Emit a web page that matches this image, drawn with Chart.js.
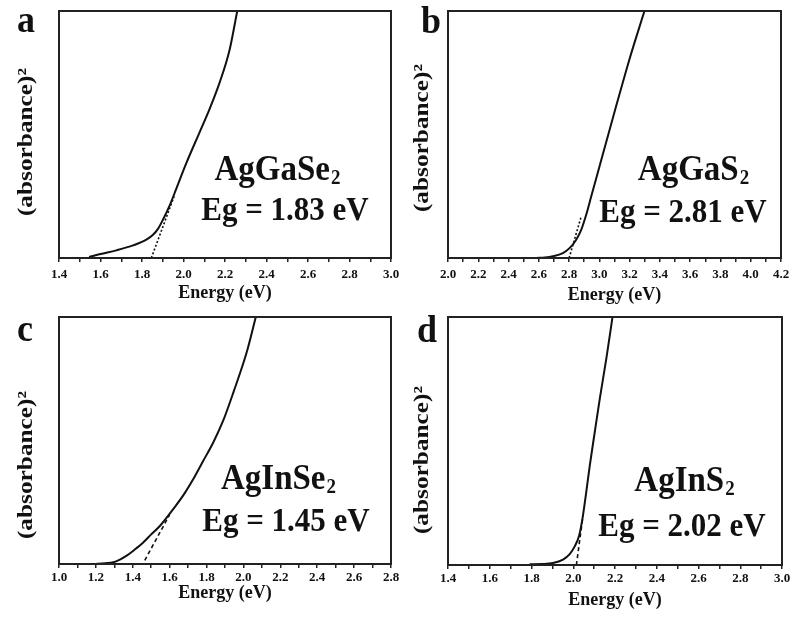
<!DOCTYPE html>
<html>
<head>
<meta charset="utf-8">
<script src="https://cdn.jsdelivr.net/npm/chart.js@4.4.1/dist/chart.umd.min.js"></script>
<style>
  body { margin: 0; background: #fff; }
  #wrap { position: relative; width: 792px; height: 618px; }
  #wrap canvas { position: absolute; left: 0; top: 0; }
</style>
</head>
<body>
<div id="wrap">
  <canvas id="chartA" width="792" height="618"></canvas>
  <canvas id="chartB" width="792" height="618"></canvas>
  <canvas id="chartC" width="792" height="618"></canvas>
  <canvas id="chartD" width="792" height="618"></canvas>
</div>
<script>
// (a) AgGaSe2
const energyA = [1.545, 1.60, 1.676, 1.757, 1.821, 1.853, 1.877, 1.901, 1.933, 1.965, 2.014, 2.078, 2.126, 2.174, 2.222, 2.259];
const absA = [0.004, 0.016, 0.031, 0.051, 0.074, 0.094, 0.118, 0.155, 0.212, 0.28, 0.385, 0.51, 0.604, 0.71, 0.842, 1.0];
const fitXA = [1.845, 1.955];
const fitYA = [0, 0.25];

// (b) AgGaS2
const energyB = [2.583, 2.64, 2.693, 2.759, 2.803, 2.847, 2.880, 2.913, 2.946, 2.979, 3.023, 3.111, 3.199, 3.298];
const absB = [0, 0.002, 0.007, 0.02, 0.04, 0.074, 0.114, 0.175, 0.249, 0.322, 0.42, 0.615, 0.805, 1.0];
const fitXB = [2.80, 2.88];
const fitYB = [0, 0.168];

// (c) AgInSe2
const energyC = [1.19, 1.25, 1.295, 1.33, 1.367, 1.41, 1.458, 1.50, 1.548, 1.62, 1.68, 1.729, 1.78, 1.837, 1.89, 1.946, 2.018, 2.067];
const absC = [0, 0.003, 0.007, 0.018, 0.034, 0.058, 0.088, 0.12, 0.155, 0.223, 0.285, 0.345, 0.415, 0.493, 0.58, 0.696, 0.858, 1.0];
const fitXC = [1.465, 1.60];
const fitYC = [0.015, 0.2];

// (d) AgInS2
const energyD = [1.791, 1.85, 1.903, 1.951, 1.983, 2.007, 2.028, 2.044, 2.06, 2.079, 2.103, 2.127, 2.159, 2.188];
const absD = [0.003, 0.004, 0.008, 0.022, 0.044, 0.075, 0.118, 0.186, 0.28, 0.40, 0.536, 0.67, 0.835, 1.0];
const fitXD = [2.015, 2.047];
const fitYD = [0, 0.2];

const serif = '"Liberation Serif", "Times New Roman", serif';
const ink = '#111';

function pts(xs, ys) {
  return xs.map((x, i) => ({ x: x, y: ys[i] }));
}

// text in the figure is a bit taller than the font, so stretch it
function tallText(c, text, x, y, sy) {
  c.save();
  c.translate(x, y);
  c.scale(1, sy);
  c.fillText(text, 0, 0);
  c.restore();
}

// frame, panel letter, y title and the compound / Eg labels
const decor = {
  id: 'decor',
  afterDraw(chart) {
    const c = chart.ctx, a = chart.chartArea, o = chart.options.plugins.decor;
    c.save();
    c.strokeStyle = '#222';
    c.lineWidth = 2;
    c.strokeRect(a.left, a.top, a.right - a.left, a.bottom - a.top);
    c.fillStyle = ink;
    c.textBaseline = 'alphabetic';

    c.font = 'bold 36px ' + serif;
    c.textAlign = 'left';
    tallText(c, o.letter, o.letterX, o.letterY, 1.08);

    c.save();
    c.translate(o.ytX, o.ytY);
    c.rotate(-Math.PI / 2);
    c.scale(1.15, 1);
    c.textAlign = 'center';
    c.textBaseline = 'middle';
    c.font = 'bold 22px ' + serif;
    c.fillText('(absorbance)²', 0, 0);
    c.restore();

    // compound name with subscript 2
    c.font = 'bold 33px ' + serif;
    const w1 = c.measureText(o.name).width;
    c.font = 'bold 19px ' + serif;
    const w2 = c.measureText('2').width;
    const x0 = o.nameX - (w1 + w2) / 2;
    c.textAlign = 'left';
    c.font = 'bold 33px ' + serif;
    tallText(c, o.name, x0, o.nameY, 1.1);
    c.font = 'bold 19px ' + serif;
    tallText(c, '2', x0 + w1 + 1, o.nameY + 4, 1.1);

    c.font = 'bold 31px ' + serif;
    c.textAlign = 'center';
    tallText(c, o.eg, o.egX, o.egY, 1.12);
    c.restore();
  }
};

function makePanel(id, curve, fit, dash, xMin, xMax, box, axisH, tickPad, titlePad, deco) {
  new Chart(document.getElementById(id), {
    type: 'line',
    data: {
      datasets: [
        {
          data: curve,
          borderColor: ink,
          borderWidth: 2,
          pointRadius: 0,
          cubicInterpolationMode: 'monotone'
        },
        {
          data: fit,
          borderColor: ink,
          borderWidth: 1.6,
          borderDash: dash,
          pointRadius: 0
        }
      ]
    },
    options: {
      responsive: false,
      animation: false,
      events: [],
      layout: { padding: { left: box.left, top: box.top, right: 792 - box.right, bottom: 618 - box.bottom - axisH } },
      plugins: { legend: { display: false }, tooltip: { enabled: false }, decor: deco },
      scales: {
        x: {
          type: 'linear',
          min: xMin,
          max: xMax,
          afterFit(s) { s.height = axisH; s.paddingLeft = 0; s.paddingRight = 0; },
          grid: { display: true, drawOnChartArea: false, tickLength: 4, color: '#222', lineWidth: 1.5 },
          border: { display: false },
          ticks: {
            stepSize: 0.1,
            autoSkip: false,
            maxRotation: 0,
            padding: tickPad,
            color: ink,
            font: { family: serif, weight: 'bold', size: 13 },
            callback: (v, i) => (i % 2 === 0 ? v.toFixed(1) : '')
          },
          title: {
            display: true,
            text: 'Energy (eV)',
            color: ink,
            font: { family: serif, weight: 'bold', size: 18 },
            padding: { top: 0, bottom: titlePad }
          }
        },
        y: { display: false, min: 0, max: 1 }
      }
    },
    plugins: [decor]
  });
}

makePanel('chartA', pts(energyA, absA), pts(fitXA, fitYA), [2, 2], 1.4, 3.0,
  { left: 59, top: 11, right: 391, bottom: 258 }, 51, 5, 5,
  { letter: 'a', letterX: 17, letterY: 32, ytX: 26, ytY: 142,
    name: 'AgGaSe', nameX: 277, nameY: 180, eg: 'Eg = 1.83 eV', egX: 285, egY: 220 });

makePanel('chartB', pts(energyB, absB), pts(fitXB, fitYB), [2, 2], 2.0, 4.2,
  { left: 448, top: 11, right: 781, bottom: 258 }, 51, 5, 3,
  { letter: 'b', letterX: 421, letterY: 33, ytX: 422, ytY: 138,
    name: 'AgGaS', nameX: 693, nameY: 180, eg: 'Eg = 2.81 eV', egX: 683, egY: 222 });

makePanel('chartC', pts(energyC, absC), pts(fitXC, fitYC), [4, 3], 1.0, 2.8,
  { left: 59, top: 317, right: 391, bottom: 564 }, 54, 2, 14,
  { letter: 'c', letterX: 17, letterY: 341, ytX: 26, ytY: 465,
    name: 'AgInSe', nameX: 278, nameY: 489, eg: 'Eg = 1.45 eV', egX: 286, egY: 531 });

makePanel('chartD', pts(energyD, absD), pts(fitXD, fitYD), [4, 3], 1.4, 3.0,
  { left: 448, top: 317, right: 782, bottom: 565 }, 53, 2, 7,
  { letter: 'd', letterX: 417, letterY: 342, ytX: 422, ytY: 460,
    name: 'AgInS', nameX: 684, nameY: 491, eg: 'Eg = 2.02 eV', egX: 682, egY: 536 });
</script>
</body>
</html>
